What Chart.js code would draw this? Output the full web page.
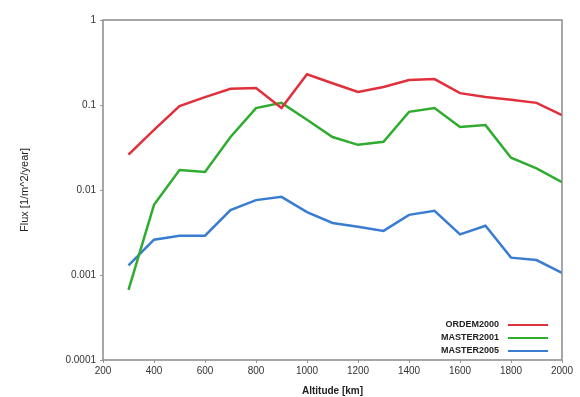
<!DOCTYPE html>
<html>
<head>
<meta charset="utf-8">
<script src="https://cdn.jsdelivr.net/npm/chart.js@4"></script>
<style>
  html, body { margin: 0; padding: 0; background: #fff; }
  #wrap { width: 580px; height: 397px; }
</style>
</head>
<body>
<div id="wrap"><canvas id="fluxChart" width="580" height="397"></canvas></div>
<script>
// altitudes in km
const altitudes = [300, 400, 500, 600, 700, 800, 900, 1000, 1100, 1200, 1300, 1400, 1500, 1600, 1700, 1800, 1900, 2000];
// flux values (1/m^2/year)
const ordem2000 = [0.026, 0.051, 0.097, 0.124, 0.155, 0.158, 0.092, 0.23, 0.18, 0.142, 0.163, 0.197, 0.202, 0.138, 0.124, 0.115, 0.106, 0.076];
const master2001 = [0.00067, 0.0067, 0.0172, 0.0163, 0.042, 0.092, 0.106, 0.067, 0.042, 0.034, 0.037, 0.083, 0.092, 0.055, 0.058, 0.024, 0.018, 0.0124];
const master2005 = [0.0013, 0.0026, 0.0029, 0.0029, 0.0058, 0.0076, 0.0083, 0.0055, 0.0041, 0.0037, 0.0033, 0.0051, 0.0057, 0.003, 0.0038, 0.0016, 0.0015, 0.00106];
const yTicks = [0.0001, 0.001, 0.01, 0.1, 1];
const yTickLabels = ["0.0001", "0.001", "0.01", "0.1", "1"];

const fontFamily = "'Liberation Sans', Arial, sans-serif";

function toPoints(values) {
  return altitudes.map((a, i) => ({ x: a, y: values[i] }));
}

// frame around the plot area
const framePlugin = {
  id: "frame",
  afterDraw(chart) {
    const { ctx, chartArea: a } = chart;
    ctx.save();
    ctx.strokeStyle = "#8a8a8a";
    ctx.lineWidth = 1.5;
    ctx.strokeRect(a.left, a.top, a.right - a.left, a.bottom - a.top);
    ctx.restore();
  }
};

// legend in the bottom right corner, text on the left of the line sample
const cornerLegend = {
  id: "cornerLegend",
  afterDraw(chart) {
    const { ctx, chartArea: a } = chart;
    const sets = chart.data.datasets;
    ctx.save();
    ctx.font = "bold 9px " + fontFamily;
    ctx.textAlign = "right";
    ctx.textBaseline = "middle";
    sets.forEach((ds, i) => {
      const y = a.bottom - 35 + i * 13;
      ctx.fillStyle = "#222";
      ctx.fillText(ds.label, a.right - 63, y);
      ctx.strokeStyle = ds.borderColor;
      ctx.lineWidth = 2;
      ctx.beginPath();
      ctx.moveTo(a.right - 54, y);
      ctx.lineTo(a.right - 14, y);
      ctx.stroke();
    });
    ctx.restore();
  }
};

const ctx = document.getElementById("fluxChart").getContext("2d");
const fluxChart = new Chart(ctx, {
  type: "line",
  data: {
    datasets: [
      { label: "ORDEM2000", data: toPoints(ordem2000), borderColor: "#e0303c" },
      { label: "MASTER2001", data: toPoints(master2001), borderColor: "#2fac2f" },
      { label: "MASTER2005", data: toPoints(master2005), borderColor: "#3a7cd2" }
    ]
  },
  options: {
    responsive: false,
    animation: false,
    layout: { padding: { top: 20, right: 18, left: 0, bottom: 0 } },
    elements: {
      line: { borderWidth: 2.5, tension: 0, fill: false },
      point: { radius: 0 }
    },
    plugins: {
      legend: { display: false },
      tooltip: { enabled: false }
    },
    scales: {
      x: {
        type: "linear",
        min: 200,
        max: 2000,
        ticks: {
          stepSize: 200,
          color: "#333",
          font: { family: fontFamily, size: 10 },
          maxRotation: 0,
          padding: 2,
          callback: (v) => String(v)
        },
        grid: { display: true, drawOnChartArea: false, color: "#999", tickLength: 3 },
        border: { display: false },
        title: {
          display: true,
          text: "Altitude [km]",
          color: "#222",
          font: { family: fontFamily, size: 10, weight: "bold" },
          padding: { top: 0, bottom: 0 }
        },
        afterFit(scale) { scale.height = 37; }
      },
      y: {
        type: "logarithmic",
        min: 0.0001,
        max: 1,
        afterBuildTicks(scale) {
          scale.ticks = yTicks.map(v => ({ value: v }));
        },
        ticks: {
          color: "#333",
          font: { family: fontFamily, size: 10 },
          padding: 4,
          callback: (v) => {
            const i = yTicks.findIndex(t => Math.abs(t - v) / t < 1e-6);
            return i >= 0 ? yTickLabels[i] : "";
          }
        },
        grid: { display: true, drawOnChartArea: false, color: "#999", tickLength: 3 },
        border: { display: false },
        title: {
          display: true,
          text: "Flux [1/m^2/year]",
          color: "#222",
          font: { family: fontFamily, size: 11 },
          padding: { top: 18, bottom: 0 }
        },
        afterFit(scale) { scale.width = 103; }
      }
    }
  },
  plugins: [framePlugin, cornerLegend]
});
</script>
</body>
</html>
